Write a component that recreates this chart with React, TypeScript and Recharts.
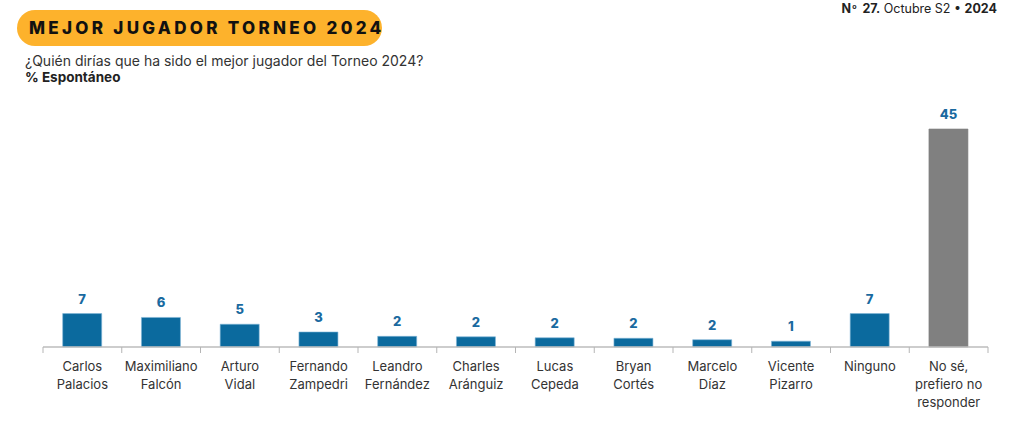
import { BarChart, Bar, XAxis, YAxis, Cell, LabelList } from 'recharts';

const categories = [
  'Carlos Palacios',
  'Maximiliano Falcón',
  'Arturo Vidal',
  'Fernando Zampedri',
  'Leandro Fernández',
  'Charles Aránguiz',
  'Lucas Cepeda',
  'Bryan Cortés',
  'Marcelo Díaz',
  'Vicente Pizarro',
  'Ninguno',
  'No sé, prefiero no responder',
];

// label lines under each bar
const tickLines = [
  ['Carlos', 'Palacios'],
  ['Maximiliano', 'Falcón'],
  ['Arturo', 'Vidal'],
  ['Fernando', 'Zampedri'],
  ['Leandro', 'Fernández'],
  ['Charles', 'Aránguiz'],
  ['Lucas', 'Cepeda'],
  ['Bryan', 'Cortés'],
  ['Marcelo', 'Díaz'],
  ['Vicente', 'Pizarro'],
  ['Ninguno'],
  ['No sé,', 'prefiero no', 'responder'],
];

const values = [6.9, 6.1, 4.7, 3.1, 2.2, 2.1, 1.9, 1.8, 1.5, 1.2, 6.9, 45];

const data = categories.map((name, i) => ({ name, value: values[i] }));

const FONT = 'Inter, "Open Sans", sans-serif';
const BLUE = '#0b6a9e';
const GREY = '#808080';
const CHART_W = 1024;
const CHART_H = 426;
const MARGIN = { top: 129, right: 36, bottom: 19, left: 43 };
const BAND = (CHART_W - MARGIN.left - MARGIN.right) / categories.length;

interface TickProps {
  x?: number;
  y?: number;
  index?: number;
}

function CategoryTick({ x = 0, y = 0, index = 0 }: TickProps) {
  const lines = tickLines[index] ?? [];
  const left = x - BAND / 2;
  return (
    <g>
      <line x1={left} x2={left} y1={y - 8} y2={y - 2} stroke="#b5b5b5" />
      {index === categories.length - 1 && (
        <line x1={left + BAND} x2={left + BAND} y1={y - 8} y2={y - 2} stroke="#b5b5b5" />
      )}
      <text x={x} y={y + 16} textAnchor="middle" fontSize={13} fill="#333" fontFamily={FONT}>
        {lines.map((l, k) => (
          <tspan key={k} x={x} dy={k === 0 ? 0 : 18}>
            {l}
          </tspan>
        ))}
      </text>
    </g>
  );
}

export default function App() {
  return (
    <div
      style={{
        position: 'absolute',
        left: 0,
        top: 0,
        width: CHART_W,
        height: CHART_H,
        background: '#fff',
        fontFamily: FONT,
        overflow: 'hidden',
      }}
    >
      <div
        style={{
          position: 'absolute',
          left: 17,
          top: 10,
          width: 365,
          height: 36,
          borderRadius: 18,
          background: '#fdb22c',
        }}
      />
      <div
        style={{
          position: 'absolute',
          left: 29,
          top: 17,
          fontSize: 17,
          lineHeight: '22px',
          fontWeight: 800,
          letterSpacing: 3.3,
          color: '#111',
          whiteSpace: 'nowrap',
        }}
      >
        MEJOR JUGADOR TORNEO 2024
      </div>
      <div
        style={{
          position: 'absolute',
          left: 25,
          top: 52,
          fontSize: 14,
          color: '#333',
          whiteSpace: 'nowrap',
        }}
      >
        ¿Quién dirías que ha sido el mejor jugador del Torneo 2024?
      </div>
      <div
        style={{
          position: 'absolute',
          left: 25,
          top: 69,
          fontSize: 13.5,
          fontWeight: 700,
          color: '#222',
          whiteSpace: 'nowrap',
        }}
      >
        % Espontáneo
      </div>
      <div
        style={{
          position: 'absolute',
          right: 27,
          top: 2,
          fontSize: 12.5,
          lineHeight: '14px',
          color: '#222',
          whiteSpace: 'nowrap',
        }}
      >
        <b>N</b>
        <span style={{ fontSize: 7, fontWeight: 700, position: 'relative', top: -4, marginLeft: 1 }}>o</span>
        <b style={{ marginLeft: 6 }}>27.</b> Octubre S2 • <b>2024</b>
      </div>
      <div style={{ position: 'absolute', left: 0, top: 0 }}>
        <BarChart width={CHART_W} height={CHART_H} data={data} margin={MARGIN} barCategoryGap="25%">
          <XAxis
            dataKey="name"
            interval={0}
            height={60}
            tickLine={false}
            axisLine={{ stroke: '#bdbdbd', strokeWidth: 1.5 }}
            tick={<CategoryTick />}
          />
          <YAxis hide domain={[0, 45]} />
          <Bar dataKey="value" isAnimationActive={false} stroke="#7fb6d6" strokeWidth={0.6}>
            {data.map((d, i) => (
              <Cell
                key={d.name}
                fill={i === data.length - 1 ? GREY : BLUE}
                stroke={i === data.length - 1 ? GREY : '#7fb6d6'}
              />
            ))}
            <LabelList
              dataKey="value"
              position="top"
              offset={10}
              formatter={(v: number) => Math.round(v)}
              style={{ fontSize: 13, fontWeight: 800, fill: '#1a6aa0', fontFamily: FONT }}
            />
          </Bar>
        </BarChart>
      </div>
    </div>
  );
}
